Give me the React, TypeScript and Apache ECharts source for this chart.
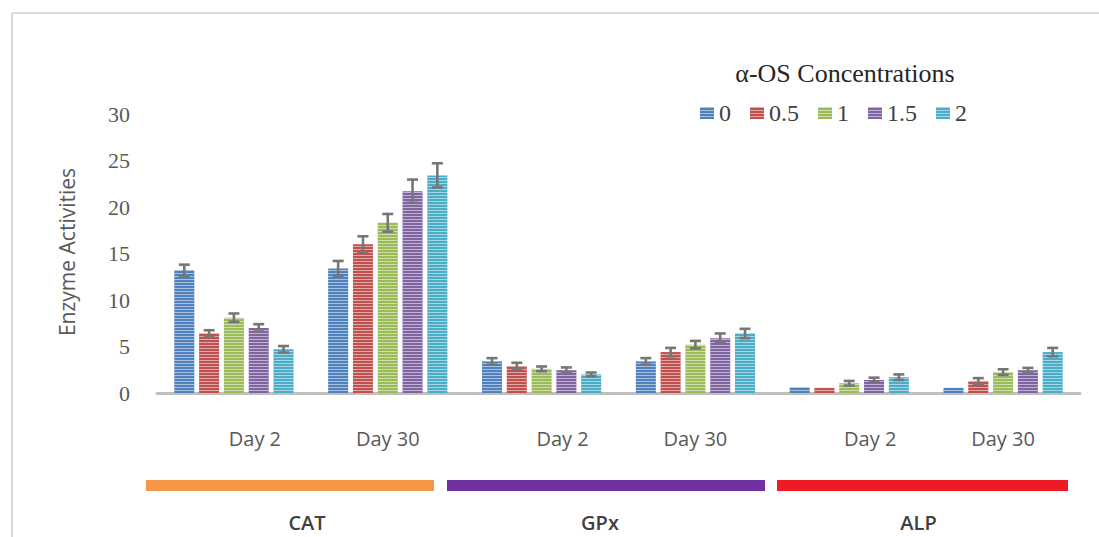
import React, { useEffect, useRef } from "react";
import * as echarts from "echarts";

const categories = ["CAT-Day 2", "CAT-Day 30", "GPx-Day 2", "GPx-Day 30", "ALP-Day 2", "ALP-Day 30"];
const concentrations = ["0", "0.5", "1", "1.5", "2"];
const colors = ["#4F81BD", "#C0504D", "#9BBB59", "#8064A2", "#4BACC6"];

const conc0 = [13.2, 13.4, 3.4, 3.4, 0.6, 0.55];
const conc05 = [6.4, 16.0, 2.9, 4.4, 0.55, 1.3];
const conc1 = [8.1, 18.3, 2.6, 5.2, 1.05, 2.25];
const conc15 = [7.0, 21.7, 2.45, 5.9, 1.4, 2.45];
const conc2 = [4.7, 23.4, 2.0, 6.4, 1.7, 4.4];

const err0 = [0.6, 0.8, 0.35, 0.35, 0, 0];
const err05 = [0.35, 0.85, 0.35, 0.45, 0, 0.3];
const err1 = [0.45, 0.95, 0.25, 0.4, 0.25, 0.3];
const err15 = [0.4, 1.25, 0.3, 0.5, 0.25, 0.25];
const err2 = [0.35, 1.3, 0.2, 0.5, 0.3, 0.45];

const yTicks = [0, 5, 10, 15, 20, 25, 30];

const groups = ["CAT", "GPx", "ALP"];
const groupColors = ["#F79646", "#7030A0", "#ED1C24"];

const values = [conc0, conc05, conc1, conc15, conc2];
const errors = [err0, err05, err1, err15, err2];

const BAR_FRAC = 0.13;
const GAP_FRAC = 0.24;

export default function App() {
  const ref = useRef<HTMLDivElement>(null);
  useEffect(() => {
    document.body.style.margin = "0";
    if (!ref.current) return;
    const chart = echarts.init(ref.current, undefined, { renderer: "svg" });

    const decal = {
      symbol: "rect",
      symbolSize: 1,
      dashArrayX: [1, 0],
      dashArrayY: [1, 2],
      color: "rgba(255,255,255,0.5)",
      rotation: 0,
    };

    const barSeries = concentrations.map((c, i) => ({
      name: c,
      type: "bar",
      data: values[i],
      barWidth: BAR_FRAC * 100 + "%",
      barGap: GAP_FRAC * 100 + "%",
      itemStyle: { color: colors[i], decal },
    }));

    const errData: number[][] = [];
    errors.forEach((arr, si) => {
      arr.forEach((e, ci) => {
        if (e > 0) errData.push([ci, si, values[si][ci], e]);
      });
    });

    const errSeries = {
      type: "custom",
      name: "err",
      data: errData,
      z: 10,
      renderItem: (params: any, api: any) => {
        const ci = api.value(0);
        const si = api.value(1);
        const v = api.value(2);
        const e = api.value(3);
        const band = api.size([1, 0])[0];
        const bw = band * BAR_FRAC;
        const pitch = bw * (1 + GAP_FRAC);
        const x = api.coord([ci, 0])[0] + (si - 2) * pitch;
        const yt = api.coord([ci, v + e])[1];
        const yb = api.coord([ci, v - e])[1];
        const hw = 5.5;
        const style = { stroke: "#767676", lineWidth: 2.6 };
        return {
          type: "group",
          children: [
            { type: "line", shape: { x1: x, y1: yt, x2: x, y2: yb }, style },
            { type: "line", shape: { x1: x - hw, y1: yt, x2: x + hw, y2: yt }, style },
            { type: "line", shape: { x1: x - hw, y1: yb, x2: x + hw, y2: yb }, style },
          ],
        };
      },
    };

    const bandX = [
      [146, 434],
      [447, 765],
      [777, 1068],
    ];
    const bandGraphics: any[] = [];
    groups.forEach((g, i) => {
      bandGraphics.push({
        type: "rect",
        shape: { x: bandX[i][0], y: 480, width: bandX[i][1] - bandX[i][0], height: 11 },
        style: { fill: groupColors[i] },
      });
      bandGraphics.push({
        type: "text",
        x: (bandX[i][0] + bandX[i][1]) / 2 + (i === 0 ? 17 : i === 2 ? -4 : -6),
        y: 522,
        style: {
          text: g,
          fill: "#404040",
          font: '600 20px "Open Sans", sans-serif',
          align: "center",
          verticalAlign: "middle",
        },
      });
    });

    chart.setOption({
      animation: false,
      backgroundColor: "#ffffff",
      aria: { enabled: true, decal: { show: true } },
      grid: { left: 157, right: 19, top: 114, bottom: 144, containLabel: false },
      legend: {
        data: concentrations,
        left: 695,
        top: 96,
        icon: "rect",
        itemWidth: 14,
        itemHeight: 12,
        itemGap: 19,
        textStyle: { fontFamily: '"Liberation Serif", serif', fontSize: 24, color: "#404040" },
      },
      xAxis: {
        type: "category",
        data: categories,
        axisLine: { lineStyle: { color: "#BFBFBF", width: 3 } },
        axisTick: { show: false },
        axisLabel: {
          margin: 35,
          formatter: (v: string) => {
            const d = v.split("-")[1];
            return d === "Day 2" ? "{a|" + d + "}" : "{b|" + d + "}";
          },
          rich: {
            a: {
              padding: [0, 0, 0, 42],
              fontFamily: '"Open Sans", sans-serif',
              fontSize: 20,
              color: "#595959",
            },
            b: {
              fontFamily: '"Open Sans", sans-serif',
              fontSize: 20,
              color: "#595959",
            },
          },
        },
      },
      yAxis: {
        type: "value",
        min: yTicks[0],
        max: yTicks[yTicks.length - 1],
        interval: 5,
        axisLine: { show: false },
        axisTick: { show: false },
        splitLine: { show: false },
        axisLabel: {
          margin: 27,
          fontFamily: '"Liberation Serif", serif',
          fontSize: 22,
          color: "#595959",
        },
      },
      graphic: [
        {
          type: "line",
          shape: { x1: 12, y1: 13, x2: 1099, y2: 13 },
          style: { stroke: "#D9D9D9", lineWidth: 2 },
        },
        {
          type: "line",
          shape: { x1: 12, y1: 13, x2: 12, y2: 537 },
          style: { stroke: "#D9D9D9", lineWidth: 2 },
        },
        {
          type: "text",
          x: 845,
          y: 73,
          style: {
            text: "α-OS Concentrations",
            fill: "#262626",
            font: '26px "Liberation Serif", serif',
            align: "center",
            verticalAlign: "middle",
          },
        },
        {
          type: "text",
          x: 67,
          y: 252,
          rotation: Math.PI / 2,
          style: {
            text: "Enzyme Activities",
            fill: "#595959",
            font: '500 21px "Open Sans", sans-serif',
            align: "center",
            verticalAlign: "middle",
          },
        },
        ...bandGraphics,
      ],
      series: [...barSeries, errSeries],
    });
    return () => chart.dispose();
  }, []);
  return <div ref={ref} style={{ width: 1099, height: 537 }} />;
}
